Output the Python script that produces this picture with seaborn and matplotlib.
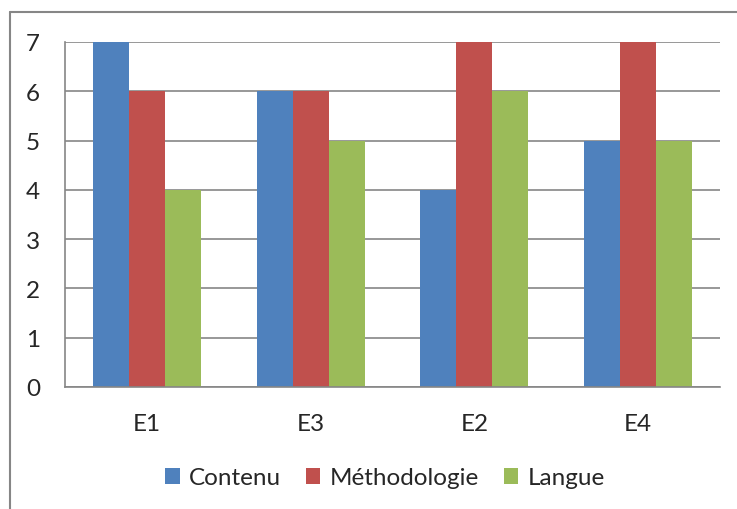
import matplotlib
matplotlib.use("Agg")
import matplotlib.pyplot as plt
import seaborn as sns
import pandas as pd
from matplotlib.lines import Line2D

categories = ["E1", "E3", "E2", "E4"]
series = ["Contenu", "Méthodologie", "Langue"]
contenu = [7, 6, 4, 5]
methodologie = [6, 6, 7, 7]
langue = [4, 5, 6, 5]
y_ticks = [0, 1, 2, 3, 4, 5, 6, 7]

colors = ["#4F81BD", "#C0504D", "#9BBB59"]
grid_col = "#868686"

df = pd.DataFrame({
    "cat": categories * 3,
    "serie": [s for s in series for _ in categories],
    "val": contenu + methodologie + langue,
})

sns.set_style("white")
plt.rcParams["font.family"] = ["Lato", "DejaVu Sans"]

fig = plt.figure(figsize=(7.37, 5.10), dpi=100)
ax = fig.add_axes([65 / 737, 1 - 388 / 510, (720 - 65) / 737, (388 - 43) / 510])

sns.barplot(data=df, x="cat", y="val", hue="serie", order=categories,
            hue_order=series, palette=colors, width=0.66, saturation=1,
            edgecolor="none", linewidth=0, ax=ax, legend=True)

ax.set_xlim(-0.5, len(categories) - 0.5)
ax.set_ylim(0, 7)
ax.set_yticks(y_ticks)
ax.set_yticklabels([str(v) for v in y_ticks])
ax.set_xlabel("")
ax.set_ylabel("")
ax.set_axisbelow(True)
ax.yaxis.grid(True, color=grid_col, linewidth=1.2)
ax.xaxis.grid(False)

for side in ["top", "right"]:
    ax.spines[side].set_visible(False)
for side in ["left", "bottom"]:
    ax.spines[side].set_color(grid_col)
    ax.spines[side].set_linewidth(1.2)

ax.tick_params(axis="y", length=0, pad=18, labelsize=17.5)
ax.tick_params(axis="x", which="major", length=0, pad=19, labelsize=17.5)
ax.set_xticks([i - 0.5 for i in range(len(categories) + 1)], minor=True)
ax.tick_params(axis="x", which="minor", length=7, width=1.2, color=grid_col)

handles, labels = ax.get_legend_handles_labels()
ax.legend_.remove()
fig.legend(handles, labels, loc="center", bbox_to_anchor=(385 / 737, 1 - 479 / 510),
           ncol=3, frameon=False, fontsize=17.5, handlelength=0.6, handleheight=0.6,
           handletextpad=0.4, columnspacing=1.0)

# outer chart frame (only the left and top edges show in the picture)
fig.add_artist(Line2D([10 / 737, 10 / 737], [0, 1 - 13 / 510], color=grid_col, linewidth=1.5))
fig.add_artist(Line2D([10 / 737, 1], [1 - 13 / 510, 1 - 13 / 510], color=grid_col, linewidth=1.5))

fig.savefig("out.png", dpi=100)
